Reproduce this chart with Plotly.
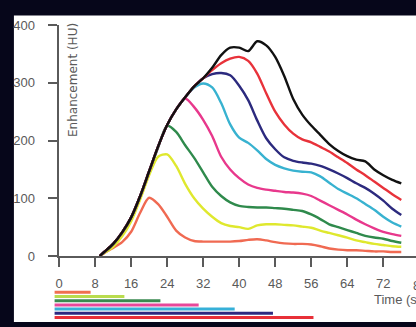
import plotly.graph_objects as go

# ---------------- data ----------------
time_s = [9, 10, 12, 14, 16, 18, 20, 22, 24, 26, 28, 30, 32, 34, 36, 38, 40, 42,
          44, 46, 48, 50, 52, 54, 56, 58, 60, 62, 64, 66, 68, 70, 72, 74, 76]

orange = [0, 5, 14, 24, 42, 75, 101, 90, 68, 44, 32, 26, 25, 25, 25, 25, 26, 28,
          29, 27, 24, 22, 21, 21, 20, 17, 13, 11, 10, 10, 9, 8, 8, 7, 7]
yellow = [0, 5, 16, 34, 60, 98, 140, 172, 176, 156, 125, 100, 82, 68, 57, 52, 50, 47,
          53, 55, 55, 54, 53, 51, 49, 44, 40, 36, 32, 27, 24, 21, 19, 17, 16]
green = [0, 6, 20, 40, 66, 103, 146, 188, 226, 215, 192, 170, 145, 120, 104, 93, 87, 85,
         84, 84, 83, 82, 80, 78, 72, 64, 55, 50, 45, 40, 35, 32, 30, 26, 23]
magenta = [0, 7, 21, 41, 67, 104, 147, 190, 227, 254, 273, 258, 236, 208, 172, 150, 135, 124,
           118, 115, 113, 111, 110, 108, 104, 96, 88, 80, 72, 63, 55, 48, 42, 38, 35]
cyan = [0, 7, 21, 41, 67, 104, 147, 190, 227, 254, 275, 292, 299, 292, 265, 228, 205, 196,
        183, 168, 158, 152, 148, 146, 145, 138, 127, 116, 108, 100, 90, 80, 68, 58, 51]
navy = [0, 7, 21, 41, 67, 104, 147, 190, 227, 254, 275, 294, 308, 315, 317, 313, 295, 270,
        235, 204, 185, 171, 165, 162, 160, 156, 150, 143, 135, 126, 118, 108, 96, 82, 71]
red = [0, 7, 21, 41, 67, 104, 147, 190, 227, 254, 275, 294, 308, 322, 334, 342, 345, 338,
       316, 282, 250, 228, 212, 202, 197, 189, 181, 171, 161, 150, 140, 129, 118, 107, 97]
black = [0, 7, 21, 41, 67, 104, 147, 190, 227, 254, 275, 294, 308, 326, 348, 361, 361, 355,
         372, 365, 345, 312, 272, 245, 226, 210, 194, 182, 173, 167, 164, 150, 140, 132, 126]

# injection bars below the axis (start time and duration, s)
bar_start = -1
bar_duration = [8, 15.5, 23.5, 32, 40, 48.5, 57.5, 64]
bar_rows = [0, 1, 2, 3, 4, 5, 6, 7]

x_ticks = [0, 8, 16, 24, 32, 40, 48, 56, 64, 72]
y_ticks = [0, 100, 200, 300, 400]

# ---------------- styling ----------------
series = [
    (orange, "#f06a52"),
    (yellow, "#dfe82e"),
    (green, "#2f8a4c"),
    (magenta, "#e8388c"),
    (cyan, "#38b2d0"),
    (navy, "#2c2a7e"),
    (red, "#e8323a"),
    (black, "#111111"),
]
bar_colors = ["#f07050", "#b9dc4e", "#3a8a50", "#e8489a", "#36b0d8",
              "#2e2a80", "#e83038", "#111111"]

W, H = 416, 327
AX = "#5a5a5a"
FONT = "Liberation Sans, Arial, sans-serif"

fig = go.Figure()
for vals, col in series:
    fig.add_trace(go.Scatter(x=time_s, y=vals, mode="lines",
                             line=dict(color=col, width=2.4, shape="spline", smoothing=0.8),
                             showlegend=False, hoverinfo="skip"))

fig.add_trace(go.Bar(orientation="h", base=bar_start, x=bar_duration, y=bar_rows,
                     marker=dict(color=bar_colors, line=dict(width=0)), width=0.72,
                     xaxis="x2", yaxis="y2", showlegend=False, hoverinfo="skip"))

fig.update_layout(
    width=W, height=H,
    margin=dict(l=0, r=0, t=0, b=0),
    paper_bgcolor="#06061a",
    plot_bgcolor="rgba(0,0,0,0)",
    font=dict(family=FONT, size=13, color=AX),
    xaxis=dict(domain=[56 / W, 1], range=[-0.11, 79.27], showgrid=False, zeroline=False,
               showline=True, linecolor=AX, linewidth=2,
               ticks="outside", ticklen=9, tickwidth=2, tickcolor=AX,
               tickvals=x_ticks, ticklabelstandoff=5,
               tickfont=dict(size=13, color=AX, family=FONT)),
    yaxis=dict(domain=[1 - 261 / H, 1 - 19 / H], range=[0, 400], showgrid=False, zeroline=False,
               showline=True, linecolor=AX, linewidth=2,
               ticks="outside", ticklen=9, tickwidth=2, tickcolor=AX,
               tickvals=y_ticks, ticklabelstandoff=10,
               tickfont=dict(size=13, color=AX, family=FONT)),
    xaxis2=dict(domain=[0, 1], range=[-12.46, 79.27], visible=False, anchor="y2"),
    yaxis2=dict(domain=[0, 0.2], range=[6.36, -8.5], visible=False, anchor="x2"),
    shapes=[dict(type="rect", xref="paper", yref="paper", layer="below",
                 x0=11 / W, x1=1.01, y0=-0.01, y1=1 - 9 / H,
                 fillcolor="#ffffff", line=dict(width=0))],
    annotations=[
        dict(text="Enhancement (HU)", xref="paper", yref="paper",
             x=70 / W, y=1 - 76 / H, textangle=-90, showarrow=False,
             xanchor="center", yanchor="middle",
             font=dict(family="DejaVu Sans, sans-serif", size=12, color=AX)),
        dict(text="Time (s)", xref="paper", yref="paper",
             x=372 / W, y=1 - 307 / H, showarrow=False,
             xanchor="left", yanchor="middle",
             font=dict(family=FONT, size=13, color=AX)),
        dict(text="80", xref="paper", yref="paper",
             x=412 / W, y=1 - 283 / H, showarrow=False,
             xanchor="left", yanchor="top", borderpad=0,
             font=dict(family=FONT, size=13, color=AX)),
    ],
)

fig.write_html("out.html", config={"displayModeBar": False},
               post_script="document.body.style.margin='0';")
